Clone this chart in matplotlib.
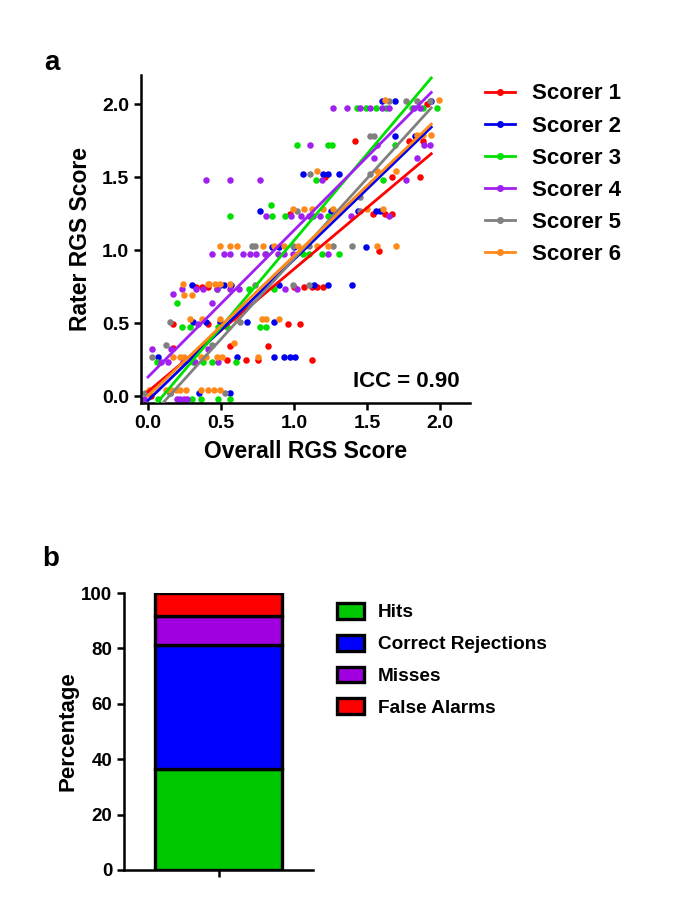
import matplotlib
matplotlib.use('Agg')
import matplotlib.pyplot as plt
from matplotlib.lines import Line2D
from matplotlib.patches import Patch

plt.rcParams['font.family'] = ['Liberation Sans', 'DejaVu Sans']
plt.rcParams['font.weight'] = 'bold'
plt.rcParams['axes.labelweight'] = 'bold'

# ---- panel a: rater score vs overall score, (x, y) ----
scorer1 = [(1.91, 2.00), (1.42, 1.75), (1.79, 1.75), (1.88, 1.75),
           (1.21, 1.50), (1.67, 1.50), (1.86, 1.50),
           (0.97, 1.25), (1.54, 1.25), (1.62, 1.25), (1.67, 1.25),
           (1.58, 0.99),
           (0.33, 0.75), (0.37, 0.75), (0.41, 0.75), (1.00, 0.75), (1.07, 0.75),
           (1.12, 0.75), (1.16, 0.75), (1.20, 0.75),
           (0.17, 0.49), (0.41, 0.49), (0.96, 0.49), (1.04, 0.49),
           (0.17, 0.33), (0.56, 0.34), (0.82, 0.34),
           (0.54, 0.25), (0.67, 0.25), (0.75, 0.25), (1.12, 0.25),
           (0.02, 0.00)]
scorer2 = [(1.60, 2.02), (1.69, 2.02), (1.94, 2.02),
           (1.69, 1.78), (1.83, 1.78),
           (1.06, 1.52), (1.20, 1.52), (1.23, 1.52), (1.31, 1.52),
           (0.77, 1.27), (1.25, 1.27), (1.44, 1.27), (1.56, 1.27), (1.59, 1.27),
           (0.85, 1.02), (0.90, 1.02), (1.00, 1.02), (1.49, 1.02),
           (0.30, 0.76), (0.49, 0.76), (0.52, 0.76), (0.57, 0.76), (0.90, 0.76),
           (1.14, 0.76), (1.23, 0.76), (1.40, 0.76),
           (0.31, 0.51), (0.40, 0.51), (0.49, 0.51), (0.68, 0.51), (0.86, 0.51),
           (0.07, 0.27), (0.61, 0.27), (0.86, 0.27), (0.93, 0.27), (0.97, 0.27),
           (1.01, 0.27),
           (0.15, 0.02), (0.35, 0.02), (0.56, 0.02)]
scorer3 = [(1.43, 1.97), (1.49, 1.97), (1.56, 1.97), (1.63, 1.97), (1.81, 1.97),
           (1.88, 1.97), (1.98, 1.97),
           (1.02, 1.72), (1.23, 1.72), (1.26, 1.72), (1.69, 1.72),
           (1.15, 1.48), (1.61, 1.48),
           (0.84, 1.31),
           (0.56, 1.23), (0.85, 1.23), (0.94, 1.23), (1.23, 1.23),
           (0.81, 0.97), (1.06, 0.97), (1.10, 0.97), (1.19, 0.97), (1.31, 0.97),
           (0.47, 0.73), (0.69, 0.73), (0.86, 0.73),
           (0.20, 0.64),
           (0.23, 0.47), (0.29, 0.47), (0.48, 0.47), (0.54, 0.47), (0.77, 0.47),
           (0.81, 0.47),
           (0.06, 0.23), (0.31, 0.23), (0.38, 0.23), (0.44, 0.23), (0.60, 0.23),
           (0.07, -0.02), (0.30, -0.02), (0.36, -0.02), (0.48, -0.02), (0.56, -0.02)]
scorer4 = [(1.27, 1.97), (1.36, 1.97), (1.45, 1.97), (1.52, 1.97), (1.60, 1.97),
           (1.65, 1.97), (1.82, 1.97), (1.86, 1.97),
           (1.11, 1.72), (1.57, 1.72), (1.89, 1.72), (1.93, 1.72),
           (1.55, 1.63), (1.84, 1.63),
           (0.40, 1.48), (0.56, 1.48), (0.77, 1.48), (1.19, 1.48), (1.77, 1.48),
           (0.81, 1.23), (0.98, 1.23), (1.05, 1.23), (1.10, 1.23), (1.13, 1.23),
           (1.18, 1.23), (1.39, 1.23), (1.65, 1.23),
           (0.44, 0.97), (0.52, 0.97), (0.56, 0.97), (0.65, 0.97), (0.70, 0.97),
           (0.74, 0.97), (0.80, 0.97), (0.89, 0.97), (0.93, 0.97), (0.99, 0.97),
           (1.23, 0.97),
           (0.23, 0.73), (0.33, 0.73), (0.38, 0.73), (0.47, 0.73), (0.56, 0.73),
           (0.62, 0.73), (0.94, 0.73), (1.02, 0.73),
           (0.17, 0.70), (0.44, 0.64),
           (0.34, 0.49),
           (0.03, 0.32), (0.16, 0.32), (0.41, 0.32),
           (0.09, 0.23), (0.14, 0.23), (0.24, 0.23), (0.32, 0.23), (0.48, 0.23),
           (-0.03, -0.02), (0.20, -0.02), (0.22, -0.02), (0.25, -0.02), (0.27, -0.02)]
scorer5 = [(1.65, 2.02), (1.77, 2.02), (1.84, 2.02), (1.93, 2.02),
           (1.52, 1.78), (1.55, 1.78),
           (1.11, 1.52), (1.52, 1.52),
           (1.45, 1.36),
           (1.02, 1.27), (1.45, 1.27),
           (0.71, 1.03), (0.73, 1.03), (0.99, 1.03), (1.10, 1.03), (1.27, 1.03),
           (1.40, 1.03),
           (0.73, 0.76), (0.99, 0.76), (1.10, 0.76),
           (0.15, 0.51), (0.63, 0.51),
           (0.12, 0.35), (0.44, 0.35),
           (0.03, 0.27),
           (-0.02, 0.02), (0.15, 0.02), (0.53, 0.02)]
scorer6 = [(1.62, 2.03), (1.99, 2.03),
           (1.84, 1.79), (1.88, 1.79), (1.94, 1.79),
           (1.16, 1.54), (1.57, 1.54), (1.70, 1.54),
           (0.99, 1.28), (1.07, 1.28), (1.12, 1.28), (1.20, 1.28), (1.27, 1.28),
           (1.50, 1.28), (1.61, 1.28),
           (0.49, 1.03), (0.56, 1.03), (0.61, 1.03), (0.79, 1.03), (0.86, 1.03),
           (0.93, 1.03), (1.03, 1.03), (1.16, 1.03), (1.23, 1.03), (1.57, 1.03),
           (1.70, 1.03),
           (0.24, 0.77), (0.41, 0.77), (0.42, 0.77), (0.46, 0.77), (0.49, 0.77),
           (0.56, 0.77),
           (0.25, 0.69), (0.30, 0.69),
           (0.29, 0.53), (0.37, 0.53), (0.49, 0.53), (0.60, 0.53), (0.78, 0.53),
           (0.81, 0.53), (0.90, 0.53),
           (0.59, 0.36),
           (0.17, 0.27), (0.22, 0.27), (0.25, 0.27), (0.30, 0.27), (0.36, 0.27),
           (0.40, 0.27), (0.47, 0.27), (0.51, 0.27), (0.75, 0.27),
           (0.01, 0.04), (0.12, 0.04), (0.16, 0.04), (0.19, 0.04), (0.22, 0.04),
           (0.26, 0.04), (0.36, 0.04), (0.41, 0.04), (0.45, 0.04), (0.49, 0.04)]

scorer_names = ['Scorer 1', 'Scorer 2', 'Scorer 3', 'Scorer 4', 'Scorer 5', 'Scorer 6']
scorer_colors = ['#ff0000', '#0000ee', '#00e000', '#a020f0', '#808080', '#ff8a1a']
# linear fits
fit_intercept = [0.03, -0.03, -0.12, 0.13, -0.16, 0.00]
fit_slope = [0.84, 0.965, 1.185, 1.005, 1.10, 0.96]
fit_xstart = [0.0, 0.0, 0.05, 0.0, 0.1, 0.0]
fit_xend = [1.94, 1.94, 1.94, 1.94, 1.94, 1.94]

# ---- panel b: stacked percentages ----
bar_labels = ['Hits', 'Correct Rejections', 'Misses', 'False Alarms']
bar_values = [36.6, 44.8, 10.2, 8.4]
bar_colors = ['#00c800', '#0000ff', '#a000e0', '#ff0000']

fig = plt.figure(figsize=(6.85, 9.17), dpi=100)

# 面板 a
ax1 = fig.add_axes([0.2058, 0.5605, 0.4803, 0.3577])
all_scorers = [scorer1, scorer2, scorer3, scorer4, scorer5, scorer6]
for pts, c in zip(all_scorers, scorer_colors):
    xs = [p[0] for p in pts]
    ys = [p[1] for p in pts]
    ax1.scatter(xs, ys, s=22, color=c, linewidths=0, zorder=2, clip_on=False)
for i, c in enumerate(scorer_colors):
    xx = [fit_xstart[i], fit_xend[i]]
    yy = [fit_intercept[i] + fit_slope[i] * v for v in xx]
    ax1.plot(xx, yy, color=c, lw=2.0, zorder=3)

ax1.set_xlim(-0.048, 2.205)
ax1.set_ylim(-0.048, 2.199)
ax1.set_xticks([0.0, 0.5, 1.0, 1.5, 2.0])
ax1.set_yticks([0.0, 0.5, 1.0, 1.5, 2.0])
ax1.set_xticklabels(['0.0', '0.5', '1.0', '1.5', '2.0'])
ax1.set_yticklabels(['0.0', '0.5', '1.0', '1.5', '2.0'])
ax1.set_xlabel('Overall RGS Score', fontsize=16.5, labelpad=6)
ax1.set_ylabel('Rater RGS Score', fontsize=16.5, labelpad=7)
ax1.text(0.97, 0.035, 'ICC = 0.90', transform=ax1.transAxes, ha='right', va='bottom',
         fontsize=16, fontweight='bold')

handles = [Line2D([0], [0], color=c, lw=2.0, marker='o', markersize=4) for c in scorer_colors]
ax1.legend(handles, scorer_names, loc='upper left', bbox_to_anchor=(0.708, 0.909),
           bbox_transform=fig.transFigure, frameon=False, fontsize=16, borderpad=0,
           borderaxespad=0, handlelength=1.35, handletextpad=0.75, labelspacing=0.5,
           numpoints=1)

# 面板 b
ax2 = fig.add_axes([0.181, 0.0513, 0.276, 0.302])
bottom = 0
for v, c in zip(bar_values, bar_colors):
    ax2.bar(0.5, v, width=0.667, bottom=bottom, color=c, edgecolor='black', linewidth=2.4,
            zorder=2)
    bottom += v
ax2.set_xlim(0, 1)
ax2.set_ylim(0, 100)
ax2.set_xticks([0.5])
ax2.set_xticklabels([''])
ax2.set_yticks([0, 20, 40, 60, 80, 100])
ax2.set_ylabel('Percentage', fontsize=16, labelpad=2)

patches = [Patch(facecolor=c, edgecolor='black', linewidth=2.4) for c in bar_colors]
ax2.legend(patches, bar_labels, loc='upper left', bbox_to_anchor=(0.492, 0.3424),
           bbox_transform=fig.transFigure, frameon=False, fontsize=13.7, borderpad=0,
           borderaxespad=0, handlelength=1.4, handleheight=0.9, handletextpad=0.75,
           labelspacing=0.7)

for ax in (ax1, ax2):
    for side in ('top', 'right'):
        ax.spines[side].set_visible(False)
    for side in ('left', 'bottom'):
        ax.spines[side].set_linewidth(1.8)
    ax.tick_params(direction='out', length=5, width=1.8)
    for lab in ax.get_xticklabels() + ax.get_yticklabels():
        lab.set_fontweight('bold')
ax1.tick_params(labelsize=14)
ax2.tick_params(labelsize=13.5)

fig.text(0.065, 0.931, 'a', fontsize=20, fontweight='bold', ha='left', va='center')
fig.text(0.061, 0.39, 'b', fontsize=20, fontweight='bold', ha='left', va='center')

fig.savefig('out.png', dpi=100)
